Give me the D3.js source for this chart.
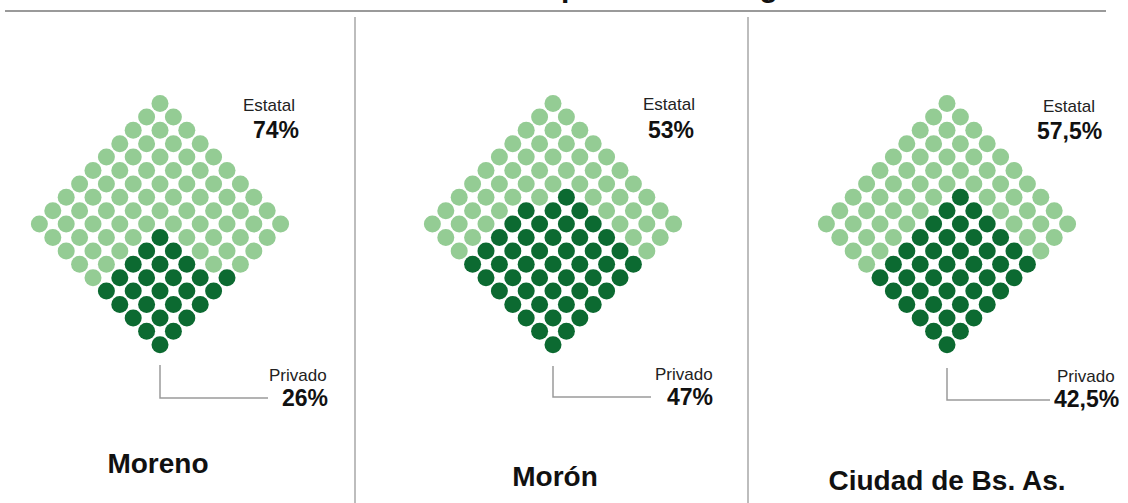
<!DOCTYPE html>
<html>
<head>
<meta charset="utf-8">
<script src="https://cdn.jsdelivr.net/npm/d3@7"></script>
<style>
  html, body { margin: 0; padding: 0; background: #fff; }
  svg { display: block; font-family: "Liberation Sans", Arial, sans-serif; }
</style>
</head>
<body>
<svg id="chart" width="1128" height="503"></svg>
<script>
// ---- data ----
const cities = ["Moreno", "Morón", "Ciudad de Bs. As."];
const estatalLabels = ["74%", "53%", "57,5%"];
const privadoLabels = ["26%", "47%", "42,5%"];
const privadoDots = [26, 47, 42];   // dark dots out of 100
const totalDots = 100;
const titleText = "Distribución de la matrícula por sector de gestión";

// ---- layout (not data) ----
const W = 1128, H = 503;
const panels = [
  { cx: 160, estX: 243, estPx: 253, estY: 111, estPctY: 138, privX: 269, privPx: 282, privY: 381, privPctY: 406,
    lineTop: 365, lineY: 398, lineEnd: 268, cityX: 158, cityY: 473, fillAxis: "row", band: 5 },
  { cx: 553, estX: 643, estPx: 648, estY: 110, estPctY: 138, privX: 655, privPx: 667, privY: 380, privPctY: 405,
    lineTop: 366, lineY: 397, lineEnd: 651, cityX: 555, cityY: 486, fillAxis: "col", band: 7 },
  { cx: 947, estX: 1043, estPx: 1037, estY: 112, estPctY: 139, privX: 1057, privPx: 1054, privY: 382, privPctY: 407,
    lineTop: 368, lineY: 400, lineEnd: 1050, cityX: 947, cityY: 490, fillAxis: "col", band: 7 }
];
const topY = 103.5, step = 13.4, r = 8.5;
const lightGreen = "#94cc94", darkGreen = "#0c6a31";
const grey = "#9a9a9a";

const svg = d3.select("#chart");

// title (mostly cropped off at top, only descenders visible)
const title = svg.append("text")
  .attr("y", -3)
  .attr("font-size", 30)
  .attr("font-weight", "bold")
  .attr("fill", "#111")
  .text(titleText);
const pIdx = titleText.indexOf(" por ") + 1;
const pOff = title.node().getSubStringLength(0, pIdx);
title.attr("x", 561 - pOff);

// top rule
svg.append("line")
  .attr("x1", 5).attr("x2", 1106).attr("y1", 11).attr("y2", 11)
  .attr("stroke", grey).attr("stroke-width", 2);

// dividers
[355, 748].forEach(x => {
  svg.append("line")
    .attr("x1", x).attr("x2", x).attr("y1", 17).attr("y2", H)
    .attr("stroke", grey).attr("stroke-width", 1.3);
});

// grid cells
const cells = [];
for (let i = 0; i < 10; i++) for (let j = 0; j < 10; j++) cells.push({ i, j });

function darkSet(n, axis, band) {
  const set = new Set();
  let count = 0;
  for (let a = 9; a >= 0 && count < n; a--) {
    for (let b = 9; b >= 10 - band && count < n; b--) {
      const key = axis === "row" ? a + "-" + b : b + "-" + a;
      set.add(key); count++;
    }
  }
  return set;
}

panels.forEach((p, k) => {
  const g = svg.append("g");
  const x = d3.scaleLinear().domain([-9, 9]).range([p.cx - 9 * step, p.cx + 9 * step]);
  const y = d3.scaleLinear().domain([0, 18]).range([topY, topY + 18 * step]);
  const dark = darkSet(privadoDots[k], p.fillAxis, p.band);

  g.selectAll("circle")
    .data(cells)
    .join("circle")
    .attr("cx", d => x(d.j - d.i))
    .attr("cy", d => y(d.i + d.j))
    .attr("r", r)
    .attr("fill", d => dark.has(d.i + "-" + d.j) ? darkGreen : lightGreen);

  // Estatal label
  g.append("text").attr("x", p.estX).attr("y", p.estY)
    .attr("font-size", 17).attr("fill", "#222").text("Estatal");
  g.append("text").attr("x", p.estPx).attr("y", p.estPctY)
    .attr("font-size", 23).attr("font-weight", "bold").attr("fill", "#111").text(estatalLabels[k]);

  // connector
  g.append("path")
    .attr("d", `M${p.cx},${p.lineTop}V${p.lineY}H${p.lineEnd}`)
    .attr("fill", "none").attr("stroke", grey).attr("stroke-width", 1.5);

  // Privado label
  g.append("text").attr("x", p.privX).attr("y", p.privY)
    .attr("font-size", 17).attr("fill", "#222").text("Privado");
  g.append("text").attr("x", p.privPx).attr("y", p.privPctY)
    .attr("font-size", 23).attr("font-weight", "bold").attr("fill", "#111").text(privadoLabels[k]);

  // city name
  g.append("text").attr("x", p.cityX).attr("y", p.cityY)
    .attr("text-anchor", "middle")
    .attr("font-size", 28).attr("font-weight", "bold").attr("fill", "#111").text(cities[k]);
});
</script>
</body>
</html>
